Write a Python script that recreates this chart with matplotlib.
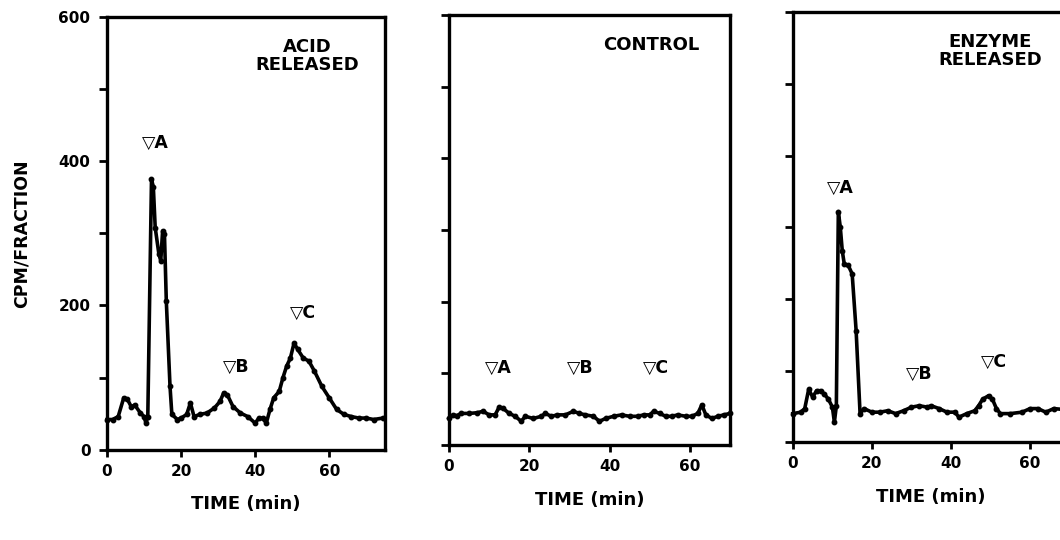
import matplotlib
matplotlib.use("Agg")
import matplotlib.pyplot as plt
from matplotlib.ticker import MultipleLocator

plt.rcParams['font.family'] = ['DejaVu Sans']
plt.rcParams['font.weight'] = 'bold'

# Acid released
acid_t = [0, 1.5, 3, 4.5, 5.5, 6.5, 7.5, 9, 10, 10.5, 11, 12, 12.5, 13, 14, 14.5, 15, 15.5,
          16, 17, 17.5, 19, 20, 21.5, 22.5, 23.5, 25, 27, 29, 30.5, 31.5, 32.5, 34, 36, 38,
          40, 41, 42, 43, 44, 45, 46.5, 47.5, 48.5, 49.5, 50.5, 51.5, 53, 54.5, 56, 58, 60,
          62, 64, 66, 68, 70, 72, 74.5]
acid_cpm = [42, 42, 46, 72, 70, 60, 62, 51, 46, 37, 46, 375, 364, 308, 271, 262, 303, 299,
            206, 88, 49, 42, 44, 49, 65, 46, 49, 51, 58, 67, 79, 76, 60, 51, 46,
            37, 44, 44, 37, 56, 72, 81, 100, 116, 127, 148, 139, 127, 123, 109, 88, 72,
            56, 49, 46, 44, 44, 42, 44]

# Control
ctrl_t = [0, 1, 2, 3, 5, 7, 8.5, 10, 11.5, 12.5, 13.5, 15, 16.5, 18, 19, 21, 23, 24, 25.5,
          27, 29, 31, 32.5, 34, 36, 37.5, 39, 41, 43, 45, 47, 48.5, 50, 51, 52.5, 54, 55.5,
          57, 59, 60.5, 62, 63, 64, 65.5, 67, 68.5, 70]
ctrl_cpm = [37, 42, 41, 44, 44, 45, 47, 42, 42, 53, 51, 44, 40, 33, 40, 37, 40, 44, 40,
            42, 42, 47, 44, 42, 40, 33, 37, 40, 42, 40, 40, 42, 42, 47, 44, 40, 40,
            42, 40, 40, 44, 56, 42, 37, 40, 42, 44]

# Enzyme released
enz_t = [0, 2, 3, 4, 5, 6, 7, 8, 9, 10, 10.5, 11, 11.5, 12, 12.5, 13, 14, 15, 16, 17, 18,
         20, 22, 24, 26, 28, 30, 32, 34, 35, 37, 39, 41, 42, 44, 46, 47, 48, 49.5, 50.5,
         51.5, 52.5, 55, 58, 60, 62, 64, 66, 68, 70]
enz_cpm = [40, 42, 47, 74, 63, 72, 72, 67, 60, 49, 28, 51, 322, 300, 267, 249, 247, 235, 156,
           40, 47, 42, 42, 44, 40, 44, 49, 51, 49, 51, 47, 42, 42, 35, 40, 44, 51, 60, 65, 60,
           47, 40, 40, 42, 47, 47, 42, 47, 46, 48]

panels = [
    dict(t=acid_t, y=acid_cpm, xmax=75, title='ACID\nRELEASED', tx=54, ty=571,
         marks=[('▽A', 13, 425), ('▽B', 35, 115), ('▽C', 53, 190)],
         pos=[0.101, 0.167, 0.262, 0.802], ylabels=True),
    dict(t=ctrl_t, y=ctrl_cpm, xmax=70, title='CONTROL', tx=50.5, ty=571,
         marks=[('▽A', 12.2, 108), ('▽B', 32.8, 108), ('▽C', 51.5, 108)],
         pos=[0.4236, 0.176, 0.265, 0.796], ylabels=False),
    dict(t=enz_t, y=enz_cpm, xmax=70, title='ENZYME\nRELEASED', tx=50, ty=571,
         marks=[('▽A', 12, 355), ('▽B', 32, 96), ('▽C', 51, 112)],
         pos=[0.748, 0.181, 0.261, 0.796], ylabels=False),
]

fig = plt.figure(figsize=(10.6, 5.4), dpi=100)

for p in panels:
    ax = fig.add_axes(p['pos'])
    ax.plot(p['t'], p['y'], color='black', lw=2.6, marker='o', ms=3.2, clip_on=False)
    ax.set_xlim(0, p['xmax'])
    ax.set_ylim(0, 600)
    ax.xaxis.set_major_locator(MultipleLocator(20))
    ax.yaxis.set_major_locator(MultipleLocator(200))
    ax.yaxis.set_minor_locator(MultipleLocator(100))
    for s in ax.spines.values():
        s.set_linewidth(2.4)
    ax.tick_params(axis='both', which='both', direction='out', width=2, labelsize=11)
    ax.tick_params(axis='x', length=5, pad=5)
    ax.tick_params(axis='y', which='both', length=6, pad=6)
    if not p['ylabels']:
        ax.tick_params(axis='y', which='both', labelleft=False)
    ax.set_xlabel('TIME (min)', fontsize=13, fontweight='bold', labelpad=12)
    ax.text(p['tx'], p['ty'], p['title'], ha='center', va='top', fontsize=13,
            fontweight='bold', linespacing=1.0)
    for label, mx, my in p['marks']:
        ax.text(mx, my, label, ha='center', va='center', fontsize=12.5, fontweight='bold')
    if p['ylabels']:
        ax.set_ylabel('CPM/FRACTION', fontsize=12.5, fontweight='bold', labelpad=20)

fig.savefig('out.png', dpi=100)
